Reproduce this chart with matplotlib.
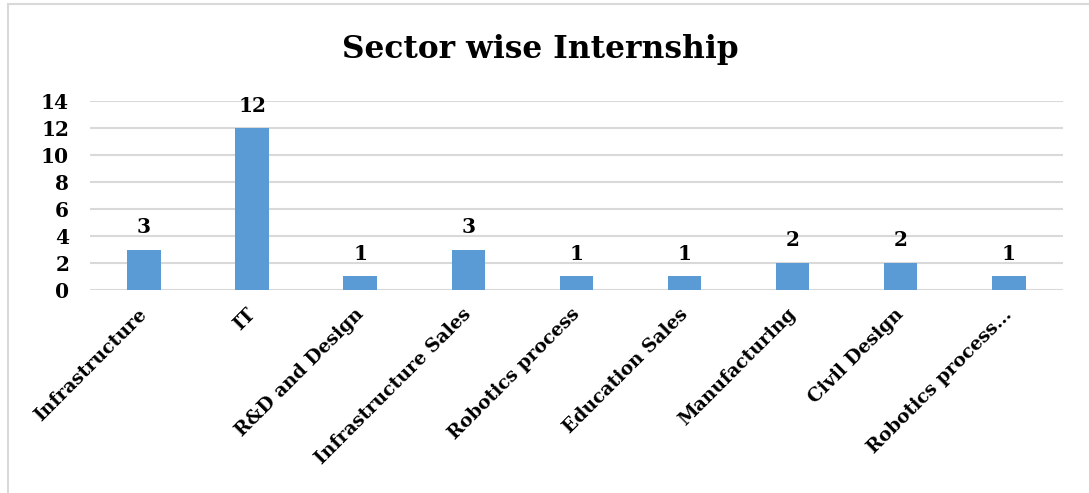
import numpy as np
import matplotlib
matplotlib.use("Agg")
import matplotlib.pyplot as plt
from matplotlib.patches import Rectangle
from matplotlib.transforms import ScaledTranslation

# sector wise internship counts
sectors = ["Infrastructure", "IT", "R&D and Design", "Infrastructure Sales",
           "Robotics process", "Education Sales", "Manufacturing",
           "Civil Design", "Robotics process…"]
counts = [3, 12, 1, 3, 1, 1, 2, 2, 1]
yticks = [0, 2, 4, 6, 8, 10, 12, 14]

plt.rcParams['font.family'] = ['DejaVu Serif']
plt.rcParams['font.weight'] = 'bold'

fig = plt.figure(figsize=(10.89, 4.93), dpi=100)
ax = fig.add_axes([0.0826, 0.4118, 0.8934, 0.3832])

# outer chart frame
fig.patches.append(Rectangle((8/1089, -0.05), 1.1, 0.05 + 1 - 4/493,
                             transform=fig.transFigure, fill=False,
                             edgecolor="#d9d9d9", linewidth=1.5))

x = np.arange(len(sectors))
bars = ax.bar(x, counts, width=0.31, color="#5b9bd5", zorder=3)

for xi, c in zip(x, counts):
    ax.annotate(str(c), (xi, c), xytext=(0, 9), textcoords="offset points",
                ha="center", va="bottom", fontsize=14.5, fontweight="bold")

ax.set_xlim(-0.5, len(sectors) - 0.5)
ax.set_ylim(0, 14)
ax.set_yticks(yticks)
ax.yaxis.grid(True, color="#d9d9d9", linewidth=1.5, zorder=0)
ax.set_axisbelow(True)
for s in ax.spines.values():
    s.set_visible(False)
ax.tick_params(axis="both", length=0, labelsize=14.5)
ax.tick_params(axis="y", pad=15)
ax.set_xticks(x)
ax.set_xticklabels(sectors, rotation=45, ha="right", rotation_mode="anchor",
                   fontweight="bold", fontsize=13.5)
ax.tick_params(axis="x", pad=11)
# nudge the slanted labels left a bit, like the original
shift = ScaledTranslation(-0.06, 0, fig.dpi_scale_trans)
for lab in ax.get_xticklabels():
    lab.set_transform(lab.get_transform() + shift)

fig.text(0.496, 0.90, "Sector wise Internship", ha="center", va="center",
         fontsize=22.5, fontweight="bold")

fig.savefig("out.png", dpi=100)
